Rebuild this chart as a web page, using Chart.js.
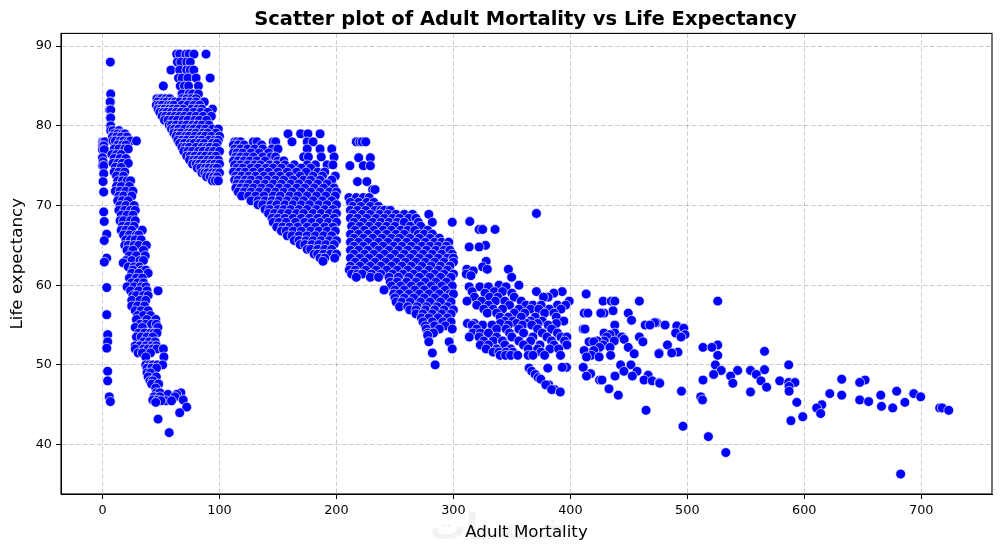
<!DOCTYPE html>
<html><head><meta charset="utf-8">
<style>html,body{margin:0;padding:0;background:#fff}canvas{display:block}</style>
<script src="https://cdn.jsdelivr.net/npm/chart.js@4/dist/chart.umd.js"></script>
</head><body><canvas id="c" width="1000" height="552"></canvas>
<script>
// Each row: life expectancy, then the adult mortality values read at that level.
const edgeColumn = [
[88,6.7],[84,7],[83,7,6.5],[82,6,7],[81,6.5,7],[80,7],
[78,0,1,2],[77.5,0,1],[77,0,1.5],[76,0],[75.5,0.5],[75,0,1],[74,1],[73,0.5],[71.7,1],
[69.2,1],[68,1.5],[66.4,3.6],[65.6,1.5],[63.4,3.6],[62.9,1.5],[59.7,3.6],[56.3,3.6],
[53.8,4.4],[52.9,4.4],[52.1,3.6],[49.2,4.4],[48,4.4],[46,5.8],[45.4,6.7]
];
const steepBand = [
[79.4,7,9,14],[79,10,13,17,19],[78.6,8.5,12,16,21],[78.1,9,11,15,18,22,24,29],[77.6,13,17,20],
[77.1,10,14,19,22],[76.4,8,12,16],[75.9,10,15,20],[75.3,9,13,17,22],[74.8,11,16],
[74.2,10,14,19],[73.7,12,18],[73.1,13,17,21,24],[72.4,12,16,23],[71.8,11,15,20,26],
[71.2,14,18,25],[70.6,13,17,22],[70,15,20,27],[69.4,14,19,24,28],
[68.8,16,21,26],[68.1,15,18,24,28],[67.4,17,22,27],[66.9,16,20,25,34],
[66.3,18,23,29,31],[65.7,20,24,28,33],[65,19,22,27,31,37.5],
[64.4,21,26,35],[63.7,23,29,36.5],[63.1,20,25,32,35],[62.8,17.7],[62.3,22,27,31.5],
[61.9,26,33.5,37],[61.5,25,39,31],[60.9,23,29,34],[60.3,25,30,35],[59.8,21,27,33,37],
[59.3,24,31,38,47.5],[58.7,26,29,35,39],[58.1,25,32,37],[57.4,25,30,36],
[56.8,28,33,39],[56.2,30,35,41],[55.7,29,38,45.5],[55.1,32,37,42,46],[54.7,28,34,47.3],
[54,31,36,41,44,46.6],[53.5,29,33,38,43],[52.9,35,40,45],[52.4,28,32,37,42,46],[52,28,35,39,43,46.3,52],
[51.5,30.5,34,41],[51,37,52.5],[50,37,40,43,47,51.4],[49.6,38,42,46.2],[49,38,41],[48.5,39,46],
[48,40.6,43],[47.6,42,48],[47.1,45.5],[46.5,46,49,67],[46.3,56,63.4],[46,44,49,62],[45.6,43,47,69],
[45.5,54,59,50],[45.3,45.5],[44.7,72],[44,66],[43.2,47.5],[41.5,57]
];
const upperWedge = [
[89,63.4,66,71.4,74,78.2,88.5],[88,64,67,72,75],[87,58.5,66,72,75,78],[86,65,68,73,80,92],[85,52,66.5,70,73.6,82],[84,68,74,77,82],
[83.4,46.5,49,50.5,54,57.5,68,72,76,80],[83,47,52,55,59,62,66,71,75,80,87],[82.6,46,48.5,51,56,58.5,61,68,73,78,83],
[82.1,47.5,50,53,57,60,64,69,76,81,85,94],[81.7,49,52,55,59,63,67,72,78,84,90],[81.2,51,54,58,62,66,70,75,80,86,93],
[80.7,53,56,60,64,69,73,79,83,89],[80.1,57,59,63,68,72,77,81,85,91],[79.6,59,61.5,65,70,75,78,83,88,94,99],
[79.1,61,64,67,73,76,80,86,90,97],[78.7,63,66,71,74,79,84,88,93,100],[78.2,64.5,68,72,77,82,85,91,96,99],
[77.8,66,70,75,78,83,87,94,98],[77.3,68,71,74,80,85,89,92,97],[76.8,69.5,73,77,82,86,91,95,100],
[76.2,72,75,79,84,88,93,97],[75.7,74.5,78,81,85,90,94,99],[75.2,77,80,83,87,92,96,100],
[74.7,81,84,88,91,95,98],[74.1,85,87.5,90,94,97,100],[73.6,89,92,95,98],[73.1,94,96.5,99]
];
const middleWedge = [
[79,158.6,169.4,175.6,186],[78,113,115,118,129,132,146,148,162,175,180],[77.6,112,116,121,136],
[77.1,113,118,124,130,137,145,150,175,186,196],[76.6,112,115,120,127,134,142],
[76.1,114,118,123,129,137,144,148,172,176,187,198],[75.6,112,116,121,126,132,139,150,155],
[75.1,113,118,124,130,135,143,149,156,164,175,182,192,197],[74.7,115,120,127,133,140,146,153,161,170,178],
[74.2,112,117,122,129,136,142,150,158,166,174,184,190],[73.7,114,119,125,131,138,145,152,160,169,180,188,199],
[73.2,113,116,122,127,134,141,148,155,163,172,178,186,196],[72.7,115,120,125,132,139,146,153,161,168,176,184,192],
[72.2,114,118,123,129,136,143,151,158,166,173,181,189,198],[71.7,116,121,127,134,141,148,155,162,170,178,186,194,200],
[71.2,119,125,131,138,146,152,160,167,175,183,191,199],[70.6,127,133,139,145,151,158,165,172,180,188,196],
[70.1,133,137,144,149,156,163,170,177,185,192,200],[69.5,139,143,150,155,161,168,175,183,190,197],
[69,142,147,153,159,166,172,180,187,194,200],[68.4,145,150,156,163,170,177,184,191,198],
[67.9,146,151,157,165,173,179,186,193,200],[67.3,149,154,160,167,175,182,190,197],
[66.8,153,157,163,170,178,185,192,199],[66.2,158,162,168,175,182,189,196],[65.6,164,168,174,180,187,194,200],
[65.1,169,173,179,185,191,198],[64.5,175,178,184,190,196],[63.9,181,184,189,195,200],[63.4,186,190,198.5],[63,188.5]
];
const centralMass = [
[78,217,220,222,225],[76,219,229],[75,211.5,223,229],[73,218,226],[72,231,233],[71,210.7,217,223,228],
[70.4,212,219,226,232],[69.9,214,221,229,236],[69.4,212,218,225,233,238,241,246],[68.9,214,222,229,237,244,251,258,265,279],
[68.4,212,218,226,234,241,248,254,262,268],[67.9,215,223,231,238,245,252,258,270,282,299],[67.4,213,220,228,236,243,250,263,272],
[66.9,216,224,232,240,247,255,261,267,278],[66.4,212,219,227,235,243,251,258,270,275,282],[65.9,215,223,231,239,247,254,263,271,280,288],
[65.4,212,219,227,236,244,252,260,268,276,284,290,296],[64.9,215,223,232,240,249,256,264,273,280,287,294],
[64.4,212,219,227,236,245,253,261,269,277,285,292,297],[63.9,215,224,232,241,250,258,266,274,282,290,299],
[63.4,212,220,228,237,246,255,263,271,279,287,295,300],[62.9,216,224,233,242,251,259,268,276,284,292,300],
[62.4,212,220,229,238,247,256,264,273,281,289,297],[61.9,211,216,225,234,243,252,261,270,279,287,295],
[61.4,213,218,222,230,238,248,257,266,275,284,292,300],[61,217,229,236,245,253,262,271,280,289,298],
[60.4,246,252,260,268,276,285,294],[59.9,247,255,264,272,281,290,299],[59.4,240.7,250,258,267,275,284,293],
[58.9,249,254,262,271,279,288,297,300],[58.4,250,258,266,275,284,293],[57.9,251,256,263,272,280,289,298],
[57.3,254,261,269,277,286,295],[56.9,262.7,268,276,284,292,300],[56.4,268,274,282,290,298],[55.9,272.6,279,287,295],
[55.4,274,282,291,298],[54.9,276,284,293],[54.5,276.8,288,299],[54,278,283],[53.7,278],[52.9,279,296.4],[52,299],[51.5,282],[50,284.4]
];
const lowerRightBand = [
[69,371],[68,314],[67,322,325,335.6],[65,327.5],[64.8,313.5,322],[63,328],[62.3,325],[62,311.5,329,347],[61.8,317],[61.4,311],[61.2,315],[61,349.8],
[60,339,356],[59.8,313.5,322.6,330,345],[59.2,371,393,316,335,342],[59,385.8,350,327],[58.5,318,331,338,352,381,377],
[58,311.6,324,336,344,358,399],[57.5,320,330,348,362,368,375,389,396],[57,326,334,342,356,366,373,382,392],
[56.5,329,337,352,361,378,386],[56,340,347,358,370,388],[55.5,344,351,366,376,394.4],
[55.2,312,318,340,354,363,372,388],[55,316,325,333,347,359,367,381],[54.5,320,337,345,356,372,384],
[54,316.7,323,330,348,360,376,389],[53.5,313.6,322,337,350,368,380,392,397],[53,326,334,342,356,366,384,395],
[52.5,323,330,344,360,374,386,397],[52,328,337,349,364,372,382.5,390],[51.6,334,339,345,351,375],
[51.2,340,344.6,349,355,364,368,378,391.6],[49.7,396.7,393],[49.6,364.7,380.7],[49.2,367],[48.8,370],[48.4,372.5],[48.2,374.7],
[47.5,381.5,379],[46.9,386.6,384],[46.6,391.4]
];
const sparseTail = [
[58.9,413.5],[58,428,435,438,459,526],[56.8,436.5],[56.5,411.8,415,428.8,449.5,426],[55.6,452.3],[55.3,473.6,472],[55,438,464,468,481],
[54.9,491],[54.6,497],[54.5,411,412.5],[54,428.8,438,490],[53.8,498,434],[53.5,459,494.6,431,444],[53.2,446],[53,437.5,429,423],
[52.9,416,462,420],[52.5,483,526,428],[52.2,425,449.5,434,513.4,521],[51.8,411.8,420],[51.7,566],[51.6,492],[51.5,486.7,476],[51.4,454.6,475.7],
[51.2,434.4,526,418],[51,413.8,424.6],[50,524,586.7,451.8,443],[49.7,411],[49.4,566],[49.3,529,543,554],[49.2,445.8,457],[48.9,417.3],
[48.8,522.5,559],[48.7,466.5],[48.6,413.8,438.2,453,537],[48.2,632],[48.1,425,427,463,513.4,652],[48,563,579,470],[47.8,586.7,592,647.4,476],
[47.7,538.9,476.4],[47.3,587],[47.2,567.8],[47,433],[46.7,495,587,679],[46.6,554],[46.4,621.8,693.6],[46.2,441,632,665.4],[46,511.5,699.5],
[45.6,513,647.4],[45.4,655],[45.3,593.6,686],[45,615],[44.8,666],[44.6,610.6,675.6,715.8,718],[44.3,464.7,723.5],[43.9,614],[43.5,598.7],
[43,588.6],[42.3,496.3],[41,518],[39,532.9],[36.3,682.4]
];
const xTicks = [0,100,200,300,400,500,600,700];
const yTicks = [40,50,60,70,80,90];
const xTitle = "Adult Mortality";
const yTitle = "Life expectancy";
const chartTitle = "Scatter plot of Adult Mortality vs Life Expectancy";
const watermark = "خمسات";
const xRange = [-35.5, 760.5];
const yRange = [33.8, 91.6];

const rows = [...edgeColumn, ...steepBand, ...upperWedge, ...middleWedge, ...centralMass, ...lowerRightBand, ...sparseTail];
const points = rows.flatMap(([life, ...mort]) => mort.map(m => ({x: m, y: life})));
const font = "'DejaVu Sans'";
const frame = {
  id: 'frame',
  beforeDraw(chart){
    const {ctx} = chart;
    ctx.save();
    ctx.fillStyle = 'rgba(0,0,0,0.05)';
    ctx.font = "bold 36px 'DejaVu Sans'";
    ctx.textAlign = 'center'; ctx.textBaseline = 'alphabetic';
    ctx.fillText(watermark, 498, 539);
    ctx.restore();
  },
  afterLayout(chart){
    const t = chart.titleBlock, a = chart.chartArea;
    t.left = a.left - 1; t.right = a.right - 1; t.width = a.right - a.left;
  },
  afterDatasetsDraw(chart){
    const {ctx, chartArea: a} = chart;
    ctx.save();
    ctx.strokeStyle = '#000'; ctx.lineWidth = 1.1;
    ctx.strokeRect(a.left, a.top, a.right - a.left, a.bottom - a.top);
    ctx.restore();
  }
};
const axis = (text, range, tickVals, fit, pad) => ({
  type: 'linear', min: range[0], max: range[1],
  afterBuildTicks: s => { s.ticks = tickVals.map(v => ({value: v})); },
  title: {display: true, text, color: '#000', font: {family: font, size: 16.67}, padding: pad},
  ticks: {color: '#000', font: {family: font, size: 12.8}, padding: 4, maxRotation: 0, autoSkip: false, callback: v => String(v)},
  grid: {color: 'rgba(0,0,0,0.2)', lineWidth: 1, tickColor: '#000', tickLength: 5, tickBorderDash: [], drawTicks: true},
  border: {display: true, color: '#000', dash: [4.5, 2.5]},
  afterFit: fit
});
new Chart(document.getElementById('c'), {
  type: 'scatter',
  data: {datasets: [{data: points, backgroundColor: '#0000ff', borderColor: 'rgba(255,255,255,0.85)', borderWidth: 0.8, pointRadius: 4.9, pointHoverRadius: 4.9}]},
  options: {
    responsive: false, animation: false, devicePixelRatio: 1,
    layout: {padding: {left: 0, right: 8, top: 0, bottom: 0}},
    plugins: {
      legend: {display: false}, tooltip: {enabled: false},
      title: {display: true, text: chartTitle, color: '#000', font: {family: font, size: 19.5, weight: 'bold'}, padding: {top: 8, bottom: 2}, align: 'center'}
    },
    scales: {
      x: axis(xTitle, xRange, xTicks, s => { s.height = 58; }, {top: 0, bottom: 9}),
      y: axis(yTitle, yRange, yTicks, s => { s.width = 61; }, {top: 8, bottom: 0})
    }
  },
  plugins: [frame]
});
</script></body></html>
